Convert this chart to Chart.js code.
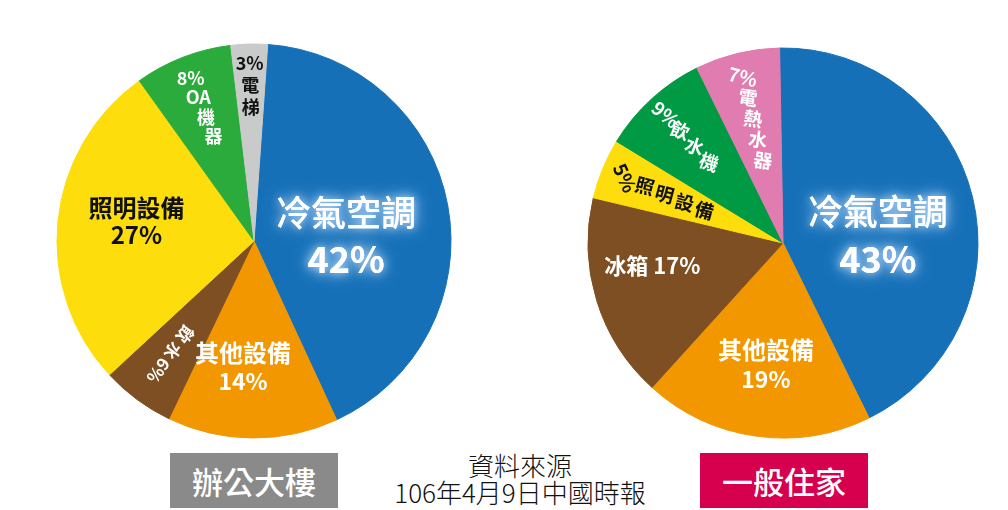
<!DOCTYPE html>
<html>
<head>
<meta charset="utf-8">
<script src="https://cdn.jsdelivr.net/npm/chart.js@4.4.1/dist/chart.umd.min.js"></script>
<style>
body{margin:0;background:#fff;width:1008px;height:510px;overflow:hidden;position:relative;font-family:"Noto Sans CJK TC",sans-serif;}
canvas{position:absolute;}
#officeChart{left:54px;top:41px;}
#homeChart{left:583px;top:43px;}
.tag{position:absolute;top:453px;width:168px;height:55px;color:#fff;font-size:31px;line-height:55px;text-align:center;font-weight:500;}
#officeTag{left:170px;background:#8a8a8a;}
#homeTag{left:700px;background:#d6004f;}
#source{position:absolute;left:320px;width:400px;top:451px;text-align:center;font-size:26px;line-height:27px;color:#111;font-weight:300;}
</style>
</head>
<body>
<canvas id="officeChart" width="400" height="400"></canvas>
<canvas id="homeChart" width="400" height="400"></canvas>
<div class="tag" id="officeTag">辦公大樓</div>
<div class="tag" id="homeTag">一般住家</div>
<div id="source">資料來源<br>106年4月9日中國時報</div>
<script>
// 辦公大樓
const officeLabels = ['冷氣空調', '其他設備', '飲水', '照明設備', 'OA機器', '電梯'];
const officeValues = [42, 14, 6, 27, 8, 3];
const officeColors = ['#1570b8', '#f39700', '#7e4f22', '#fddd0b', '#2bab3b', '#c9caca'];

// 一般住家
const homeLabels = ['冷氣空調', '其他設備', '冰箱', '照明設備', '飲水機', '電熱水器'];
const homeValues = [43, 19, 17, 5, 9, 7];
const homeColors = ['#1570b8', '#f39700', '#7e4f22', '#fddd0b', '#009a44', '#e07cb0'];

const FONT = '"Noto Sans CJK TC", sans-serif';
const bigBlock = {mode: 'block', color: '#fff', glow: true, fonts: ['500 35px ' + FONT, 'bold 36px ' + FONT], gap: 47};

// label placement for each slice (not data)
const officeLayout = [
  Object.assign({}, bigBlock, {dist: 0.475, ox: 0, oy: 12}),
  {mode: 'block', color: '#fff', fonts: ['bold 24px ' + FONT, 'bold 23px ' + FONT], gap: 29, dist: 0.64, ox: -10, oy: 0},
  {mode: 'outward', color: '#fff', font: 'bold 17px ' + FONT, start: 116, step: 21},
  {mode: 'block', color: '#111', fonts: ['bold 24px ' + FONT, 'bold 24px ' + FONT], gap: 27, dist: 0.6, ox: 0, oy: -8},
  {mode: 'radial', color: '#fff', font: 'bold 18px ' + FONT, start: 175, step: 21, pctTilt: 0, tilt: 0},
  {mode: 'radial', color: '#111', font: 'bold 18px ' + FONT, start: 178, step: 22, pctTilt: 0, tilt: 0}
];

const homeLayout = [
  Object.assign({}, bigBlock, {dist: 0.49, ox: 2, oy: 15}),
  {mode: 'block', color: '#fff', fonts: ['bold 24px ' + FONT, 'bold 23px ' + FONT], gap: 29, dist: 0.63, ox: 0, oy: 0},
  {mode: 'block', inline: true, color: '#fff', fonts: ['bold 22px ' + FONT], gap: 0, dist: 0.68, ox: -4, oy: -17},
  {mode: 'radial', color: '#111', font: 'bold 19px ' + FONT, start: 171, step: 21.5, pctTilt: 65, tilt: 15},
  {mode: 'radial', color: '#fff', font: 'bold 19px ' + FONT, start: 174, step: 21.5, pctTilt: 40, tilt: 20},
  {mode: 'radial', color: '#fff', font: 'bold 19px ' + FONT, start: 171, step: 21.5, pctTilt: 15, tilt: 8}
];

const pieLabels = {
  id: 'pieLabels',
  afterDatasetsDraw(chart, args, opts) {
    const ctx = chart.ctx;
    const meta = chart.getDatasetMeta(0);
    const names = chart.data.labels;
    const vals = chart.data.datasets[0].data;
    meta.data.forEach((arc, i) => {
      const s = opts.layout[i];
      const p = arc.getProps(['x', 'y', 'startAngle', 'endAngle', 'outerRadius'], true);
      const mid = (p.startAngle + p.endAngle) / 2;
      const pct = vals[i] + '%';
      ctx.save();
      ctx.fillStyle = s.color;
      ctx.textAlign = 'center';
      ctx.textBaseline = 'middle';
      if (s.mode === 'block') {
        const cx = p.x + Math.cos(mid) * s.dist * p.outerRadius + s.ox;
        const cy = p.y + Math.sin(mid) * s.dist * p.outerRadius + s.oy;
        const lines = s.inline ? [names[i] + ' ' + pct] : [names[i], pct];
        lines.forEach((t, k) => {
          const ly = cy + (k - (lines.length - 1) / 2) * s.gap;
          ctx.font = s.fonts[k];
          if (s.glow) {
            ctx.shadowColor = 'rgba(190,220,255,0.95)';
            ctx.shadowBlur = 18;
            ctx.fillText(t, cx, ly);
            ctx.shadowBlur = 8;
          }
          ctx.fillText(t, cx, ly);
        });
      } else if (s.mode === 'outward') {
        // glyphs from the centre outwards, turned along the slice
        ctx.font = s.font;
        const glyphs = names[i].split('').concat([pct]);
        glyphs.forEach((g, k) => {
          const d = s.start + k * s.step + (k === glyphs.length - 1 ? 3 : 0);
          ctx.save();
          ctx.translate(p.x + Math.cos(mid) * d, p.y + Math.sin(mid) * d);
          ctx.rotate(mid);
          ctx.fillText(g, 0, 0);
          ctx.restore();
        });
      } else if (s.mode === 'radial') {
        ctx.font = s.font;
        const glyphs = [pct].concat(names[i].match(/[A-Za-z0-9]+|./g));
        glyphs.forEach((g, k) => {
          const d = s.start - k * s.step;
          ctx.save();
          ctx.translate(p.x + Math.cos(mid) * d, p.y + Math.sin(mid) * d);
          ctx.rotate((k === 0 ? s.pctTilt : s.tilt) * Math.PI / 180);
          ctx.fillText(g, 0, 0);
          ctx.restore();
        });
      }
      ctx.restore();
    });
  }
};

function makePie(id, labels, values, colors, rotation, radius, layout) {
  return new Chart(document.getElementById(id).getContext('2d'), {
    type: 'pie',
    data: {
      labels: labels,
      datasets: [{
        data: values,
        backgroundColor: colors,
        borderColor: colors,
        borderWidth: 1,
        radius: radius,
        rotation: rotation
      }]
    },
    options: {
      responsive: false,
      animation: false,
      events: [],
      layout: {padding: 0},
      plugins: {
        legend: {display: false},
        tooltip: {enabled: false},
        pieLabels: {layout: layout}
      }
    },
    plugins: [pieLabels]
  });
}

makePie('officeChart', officeLabels, officeValues, officeColors, 4, 197, officeLayout);
makePie('homeChart', homeLabels, homeValues, homeColors, -1, 195, homeLayout);
</script>
</body>
</html>
